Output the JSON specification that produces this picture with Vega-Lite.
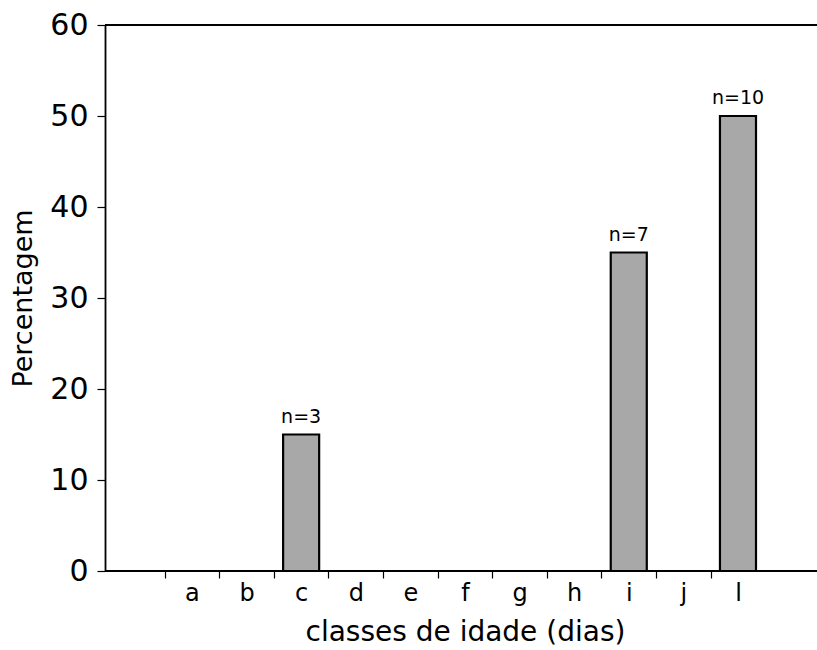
{
  "$schema": "https://vega.github.io/schema/vega-lite/v6.json",
  "width": 712,
  "height": 546,
  "autosize": {"type": "none"},
  "padding": {"left": 105, "top": 25, "right": 0, "bottom": 79},
  "config": {
    "view": {"stroke": null},
    "font": "DejaVu Sans",
    "axis": {
      "domainColor": "black",
      "tickColor": "black",
      "labelColor": "black",
      "titleColor": "black",
      "labelFont": "DejaVu Sans",
      "titleFont": "DejaVu Sans",
      "titleFontWeight": "normal",
      "grid": false
    }
  },
  "data": {
    "values": [
      {"classe": "a", "pct": 0, "label": null},
      {"classe": "b", "pct": 0, "label": null},
      {"classe": "c", "pct": 15, "label": "n=3"},
      {"classe": "d", "pct": 0, "label": null},
      {"classe": "e", "pct": 0, "label": null},
      {"classe": "f", "pct": 0, "label": null},
      {"classe": "g", "pct": 0, "label": null},
      {"classe": "h", "pct": 0, "label": null},
      {"classe": "i", "pct": 35, "label": "n=7"},
      {"classe": "j", "pct": 0, "label": null},
      {"classe": "l", "pct": 50, "label": "n=10"}
    ]
  },
  "encoding": {
    "x": {
      "field": "classe",
      "type": "nominal",
      "scale": {
        "type": "band",
        "domain": ["a", "b", "c", "d", "e", "f", "g", "h", "i", "j", "l"],
        "range": [68.9, 651.0],
        "paddingInner": 0.34,
        "paddingOuter": 0
      },
      "axis": {
        "title": "classes de idade (dias)",
        "titleFontSize": 28,
        "titlePadding": 13,
        "labelFontSize": 24,
        "labelAngle": 0,
        "labelPadding": 3,
        "tickSize": 7,
        "tickWidth": 1.2,
        "domain": false,
        "tickOffset": -27.3,
        "labelOffset": 27.3
      }
    },
    "y": {
      "field": "pct",
      "type": "quantitative",
      "scale": {"domain": [0, 60], "nice": false},
      "axis": {
        "title": "Percentagem",
        "titleFontSize": 27,
        "titlePadding": 12,
        "labelFontSize": 30,
        "labelPadding": 9,
        "tickSize": 8,
        "tickWidth": 1.2,
        "domainWidth": 1.8,
        "values": [0, 10, 20, 30, 40, 50, 60]
      }
    }
  },
  "layer": [
    {
      "mark": {"type": "rule", "color": "black", "strokeWidth": 1.8},
      "encoding": {"y": {"datum": 60}, "x": null}
    },
    {
      "mark": {"type": "rule", "color": "black", "strokeWidth": 1.8},
      "encoding": {"y": {"datum": 0}, "x": null}
    },
    {
      "mark": {"type": "bar", "fill": "#a8a8a8", "stroke": "black", "strokeWidth": 2.2}
    },
    {
      "transform": [{"filter": "datum.label != null"}],
      "mark": {"type": "text", "baseline": "bottom", "dy": -8, "fontSize": 19, "color": "black"},
      "encoding": {"text": {"field": "label"}}
    },
    {
      "data": {"values": [{"txt": "Med.=40.20"}]},
      "mark": {"type": "text", "fontSize": 19, "color": "black", "baseline": "middle"},
      "encoding": {
        "x": {"datum": "e"},
        "y": {"datum": 42.7},
        "text": {"field": "txt"}
      }
    }
  ]
}
